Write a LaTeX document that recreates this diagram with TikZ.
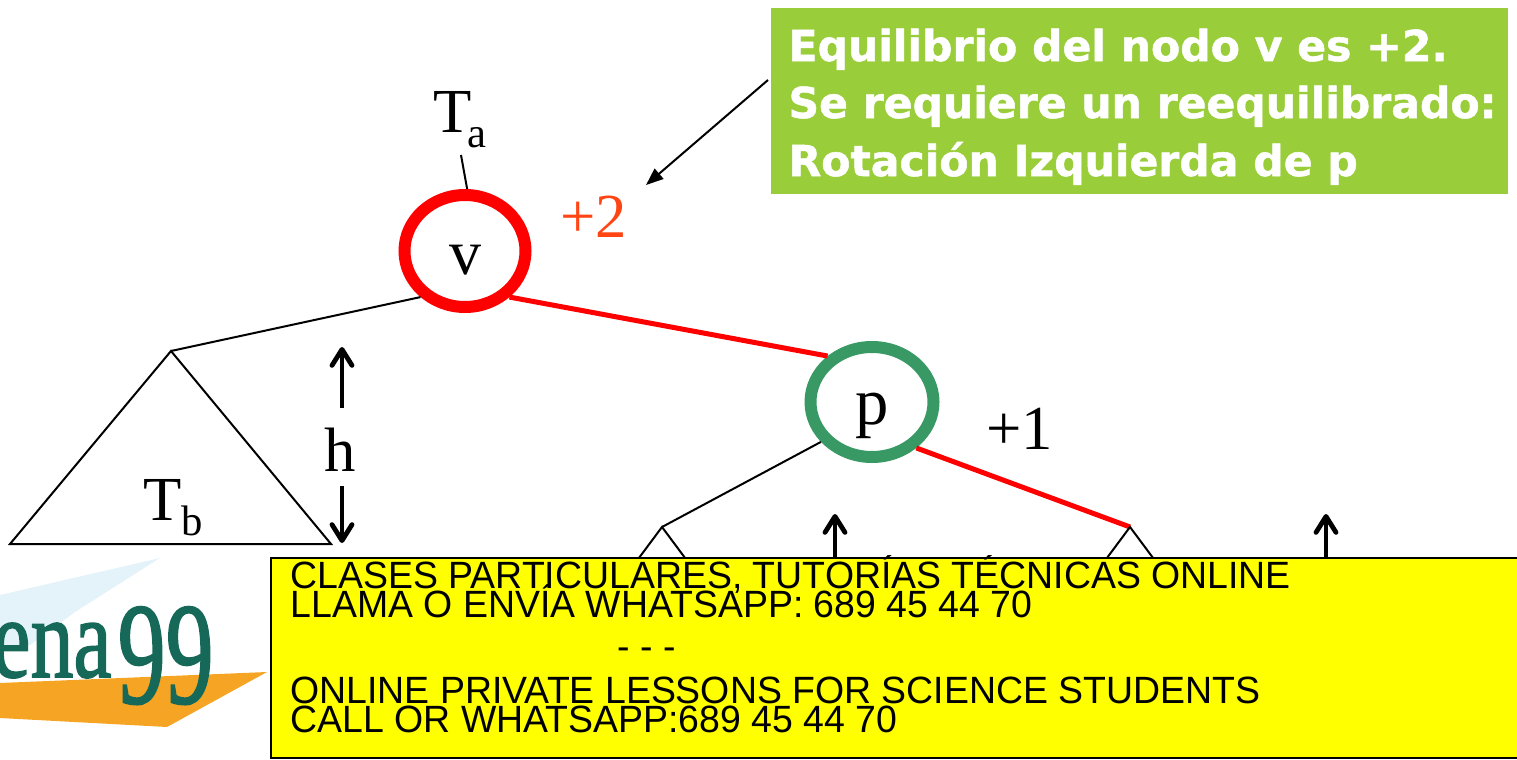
\documentclass[tikz,border=0pt]{standalone}
\usepackage{fontspec}
\setmainfont{Liberation Serif}
\newfontfamily\bannerfont{Liberation Sans}
\newfontfamily\notefont{DejaVu Sans}[BoldFeatures={FakeBold=1.2}]
\newfontfamily\logofont{Liberation Serif}[FakeBold=1.5]
\usetikzlibrary{arrows.meta,shapes.geometric}
\definecolor{notegreen}{RGB}{154,205,58}
\definecolor{pgreen}{RGB}{56,153,100}
\definecolor{plusred}{RGB}{255,69,20}
\definecolor{logoteal}{RGB}{22,105,88}
\definecolor{logoblue}{RGB}{228,242,250}
\definecolor{logoorange}{RGB}{245,165,35}
\definecolor{banneryellow}{RGB}{255,255,0}
\newcommand{\lowsub}[1]{\raisebox{-11.5pt}{\fontsize{32}{32}\selectfont #1}}
\tikzset{every picture/.style={line width=0.75pt},
  thinedge/.style={line width=1.5pt},
  rededge/.style={line width=3.75pt,red},
  harrow/.style={line width=3.6pt,-{Straight Barb[length=12pt,width=15pt,round]}},
  treelabel/.style={anchor=base west,inner sep=0pt,font=\fontsize{47}{47}\selectfont},
  noteline/.style={anchor=base west,inner sep=0pt,text=white,font=\notefont\bfseries\fontsize{31.9}{31.9}\selectfont},
  bannerline/.style={anchor=base west,inner sep=0pt,xscale=0.985,font=\bannerfont\fontsize{28.5}{28.5}\selectfont}}

\begin{document}
\begin{tikzpicture}[x=0.75pt,y=0.75pt,yscale=-1,xscale=1]
\useasboundingbox (0,0) rectangle (1517,760);

%Logo
\fill [logoblue] (0,595) -- (160,558) -- (75,612) -- (30,645) -- (0,650) -- cycle ;
\fill [logoorange] (0,683) -- (267,672) -- (167,727) -- (0,718) -- cycle ;
\draw (112,677) node [anchor=base east,inner sep=0pt,xscale=0.75,text=logoteal,font=\logofont\fontsize{86}{86}\selectfont] (logoname) {ena};
\draw (214,703) node [anchor=base east,inner sep=0pt,xscale=0.66,text=logoteal,font=\logofont\fontsize{109}{109}\selectfont] (logonum) {99};

%Note box
\draw (770,7) node [anchor=north west,minimum width=552.75pt,minimum height=139.5pt,inner sep=0pt,fill=notegreen] (note) {};
\draw (788,61) node [noteline] (noteone) {Equilibrio del nodo v es +2.};
\draw (788,118) node [noteline] (notetwo) {Se requiere un reequilibrado:};
\draw (788,176) node [noteline] (notethree) {Rotación Izquierda de p};

%Tree nodes
\draw (465,251) node [ellipse,draw=red,line width=9pt,minimum width=90.75pt,minimum height=84pt,inner sep=0pt,text height=34.5pt,text depth=0pt,font=\fontsize{48}{48}\selectfont] (v) {v};
\draw (872,402) node [ellipse,draw=pgreen,line width=9pt,minimum width=92.25pt,minimum height=82.5pt,inner sep=0pt,text height=33pt,text depth=0pt,font=\fontsize{50}{50}\selectfont] (p) {p};

% Text Node
\draw (433,132) node [treelabel] (ta) {T\kern-3pt\lowsub{a}};
\draw (560,237) node [treelabel,text=plusred] (eqv) {+2};
\draw (986,449) node [treelabel] (eqp) {+1};
\draw (324,471) node [treelabel] (h) {h};
\draw (143,520) node [treelabel] (tb) {T\lowsub{b}};

%Free ends
\coordinate (tastem) at (461,155);
\coordinate (tbtop) at (171,351);
\coordinate (tbleft) at (10,544);
\coordinate (tbright) at (331,544);
\coordinate (ltop) at (662,527);
\coordinate (lleft) at (630,570);
\coordinate (lright) at (694,570);
\coordinate (rtop) at (1130,527);
\coordinate (rleft) at (1098,570);
\coordinate (rright) at (1162,570);
\coordinate (hup) at (342,408);
\coordinate (hupend) at (342,347);
\coordinate (hdown) at (342,486);
\coordinate (hdownend) at (342,543);
\coordinate (lfoot) at (835,570);
\coordinate (lhead) at (835,514);
\coordinate (rfoot) at (1326,570);
\coordinate (rhead) at (1326,514);
\coordinate (notefoot) at (768,80);
\coordinate (notehead) at (646,185);

%Straight Lines
\draw [thinedge] (tastem) -- (v.88) ;
\draw [thinedge] (v.-134) -- (tbtop) ;
\draw [rededge] (v.-46) -- (p.134) ;
\draw [thinedge] (p.-142) -- (ltop) ;
\draw [rededge] (p.-46) -- (rtop) ;
%Triangles
\draw [thinedge] (tbtop) -- (tbleft) -- (tbright) -- cycle ;
\draw [thinedge] (lleft) -- (ltop) -- (lright) ;
\draw [thinedge] (rleft) -- (rtop) -- (rright) ;
%Arrows
\draw [harrow] (hup) -- (hupend) ;
\draw [harrow] (hdown) -- (hdownend) ;
\draw [harrow] (lfoot) -- (lhead) ;
\draw [harrow] (rfoot) -- (rhead) ;
\draw [thinedge,-{Stealth[length=13pt,width=10pt,inset=0pt]}] (notefoot) -- (notehead) ;

%Banner
\fill [banneryellow] (271,558) rectangle (1517,758) ;
\draw [line width=1.5pt] (1517,558) -- (271,558) -- (271,758) -- (1517,758) ;
\draw (290,588) node [bannerline] (bannerone) {CLASES PARTICULARES, TUTORÍAS TÉCNICAS ONLINE};
\draw (290,617) node [bannerline] (bannertwo) {LLAMA O ENVÍA WHATSAPP: 689 45 44 70};
\draw (617,659) node [bannerline] (bannerdash) {- - -};
\draw (290,703) node [bannerline] (bannerthree) {ONLINE PRIVATE LESSONS FOR SCIENCE STUDENTS};
\draw (290,732) node [bannerline] (bannerfour) {CALL OR WHATSAPP:689 45 44 70};

\end{tikzpicture}
\end{document}
